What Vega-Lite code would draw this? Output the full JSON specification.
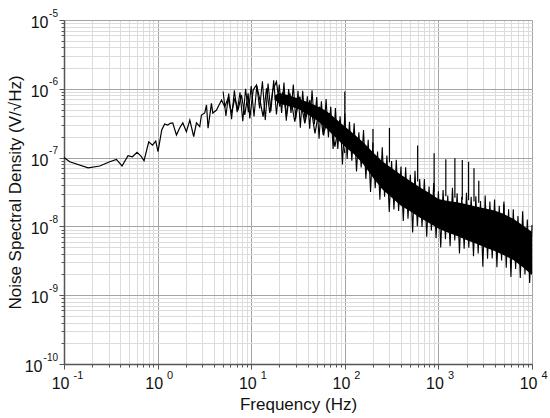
{
  "$schema": "https://vega.github.io/schema/vega-lite/v6.json",
  "width": 468,
  "height": 344,
  "autosize": {"type": "none"},
  "padding": {"left": 64, "top": 20, "right": 18, "bottom": 54},
  "background": "white",
  "config": {
    "view": {"stroke": null},
    "font": "Liberation Sans",
    "axis": {
      "labelFont": "Liberation Sans",
      "titleFont": "Liberation Sans",
      "labelColor": "#111",
      "titleColor": "#111",
      "titleFontWeight": "normal",
      "domainColor": "#555",
      "domainWidth": 1.5,
      "tickColor": "#555",
      "labelOverlap": false,
      "labelFlush": false
    }
  },
  "datasets": {
    "trace": [
      {"f": 0.1, "v": 1.0e-7}, {"f": 0.115, "v": 8.7e-8}, {"f": 0.181, "v": 7.1e-8},
      {"f": 0.241, "v": 7.55e-8}, {"f": 0.308, "v": 8.7e-8}, {"f": 0.363, "v": 9.4e-8},
      {"f": 0.417, "v": 7.55e-8}, {"f": 0.483, "v": 1.07e-7}, {"f": 0.538, "v": 1.03e-7},
      {"f": 0.603, "v": 1.19e-7}, {"f": 0.665, "v": 1.05e-7}, {"f": 0.716, "v": 9.0e-8},
      {"f": 0.804, "v": 1.7e-7}, {"f": 0.881, "v": 1.52e-7}, {"f": 0.955, "v": 1.74e-7},
      {"f": 1.01, "v": 1.22e-7}, {"f": 1.107, "v": 2.52e-7}, {"f": 1.19, "v": 3.08e-7},
      {"f": 1.28, "v": 2.98e-7}, {"f": 1.365, "v": 3.15e-7}, {"f": 1.45, "v": 3.19e-7},
      {"f": 1.59, "v": 2.13e-7}, {"f": 1.72, "v": 2.69e-7}, {"f": 1.86, "v": 3.19e-7},
      {"f": 2.03, "v": 2.38e-7}, {"f": 2.21, "v": 3.52e-7}, {"f": 2.43, "v": 2.01e-7},
      {"f": 2.6, "v": 3.19e-7}, {"f": 2.82, "v": 2.81e-7}, {"f": 2.94, "v": 4.16e-7},
      {"f": 3.19, "v": 4.45e-7}, {"f": 3.33, "v": 5.82e-7}, {"f": 3.46, "v": 2.67e-7},
      {"f": 3.76, "v": 6.15e-7}, {"f": 3.89, "v": 4.45e-7}, {"f": 4.26, "v": 4.92e-7},
      {"f": 4.82, "v": 6.87e-7}, {"f": 5.22, "v": 5.5e-7}, {"f": 5.66, "v": 7.28e-7},
      {"f": 6.15, "v": 4.45e-7}, {"f": 6.68, "v": 7.28e-7}, {"f": 7.24, "v": 4.92e-7},
      {"f": 7.87, "v": 8.13e-7}, {"f": 8.54, "v": 4.16e-7}, {"f": 9.27, "v": 8.61e-7},
      {"f": 9.66, "v": 3.72e-7}, {"f": 10.5, "v": 9.62e-7}, {"f": 11.4, "v": 1.14e-6},
      {"f": 12.4, "v": 6.87e-7}, {"f": 13.4, "v": 3.93e-7}, {"f": 14.6, "v": 1.02e-6},
      {"f": 15.8, "v": 4.45e-7}, {"f": 17.0, "v": 9.62e-7}, {"f": 18.6, "v": 1.27e-6},
      {"f": 20.2, "v": 5.5e-7}, {"f": 21.9, "v": 9.08e-7}, {"f": 23.8, "v": 3.93e-7},
      {"f": 25.9, "v": 8.61e-7}, {"f": 29.2, "v": 3.33e-7}, {"f": 33.1, "v": 7.67e-7},
      {"f": 37.4, "v": 3.15e-7}, {"f": 42.3, "v": 6.87e-7}, {"f": 48.0, "v": 2.25e-7},
      {"f": 54.0, "v": 5.5e-7}, {"f": 58.7, "v": 2.13e-7}, {"f": 69.0, "v": 4.45e-7},
      {"f": 78.4, "v": 1.44e-7}, {"f": 88.5, "v": 3.52e-7}, {"f": 100, "v": 1.16e-7}
    ],
    "core": [
      {"f": 17.8, "hi": 8.0e-7, "lo": 7.0e-7}, {"f": 19.95, "hi": 8.7e-7, "lo": 6.05e-7},
      {"f": 25.12, "hi": 8.03e-7, "lo": 5.64e-7}, {"f": 31.62, "hi": 7.24e-7, "lo": 5.15e-7},
      {"f": 39.81, "hi": 6.45e-7, "lo": 4.28e-7}, {"f": 50.12, "hi": 5.62e-7, "lo": 3.48e-7},
      {"f": 63.1, "hi": 4.79e-7, "lo": 2.7e-7}, {"f": 79.43, "hi": 3.71e-7, "lo": 1.96e-7},
      {"f": 100, "hi": 2.82e-7, "lo": 1.45e-7}, {"f": 125.9, "hi": 2.18e-7, "lo": 1.12e-7},
      {"f": 158.5, "hi": 1.66e-7, "lo": 7.96e-8}, {"f": 199.5, "hi": 1.2e-7, "lo": 5.15e-8},
      {"f": 251.2, "hi": 8.87e-8, "lo": 3.48e-8}, {"f": 316.2, "hi": 7.07e-8, "lo": 2.64e-8},
      {"f": 398.1, "hi": 5.62e-8, "lo": 2.0e-8}, {"f": 501.2, "hi": 4.57e-8, "lo": 1.66e-8},
      {"f": 631, "hi": 3.71e-8, "lo": 1.35e-8}, {"f": 794.3, "hi": 3.09e-8, "lo": 1.12e-8},
      {"f": 1000, "hi": 2.51e-8, "lo": 9.36e-9}, {"f": 1259, "hi": 2.34e-8, "lo": 8.15e-9},
      {"f": 1585, "hi": 2.24e-8, "lo": 7.27e-9}, {"f": 1995, "hi": 2.09e-8, "lo": 6.33e-9},
      {"f": 2512, "hi": 1.95e-8, "lo": 5.64e-9}, {"f": 3162, "hi": 1.82e-8, "lo": 4.92e-9},
      {"f": 3981, "hi": 1.7e-8, "lo": 4.38e-9}, {"f": 5012, "hi": 1.51e-8, "lo": 3.82e-9},
      {"f": 6310, "hi": 1.29e-8, "lo": 3.25e-9}, {"f": 7943, "hi": 1.04e-8, "lo": 2.57e-9},
      {"f": 10000, "hi": 8.31e-9, "lo": 1.96e-9}
    ],
    "noise": [
      {"f": 5.01, "v": 9.12e-7}, {"f": 5.37, "v": 4.03e-7}, {"f": 5.75, "v": 8.51e-7},
      {"f": 6.17, "v": 3.63e-7}, {"f": 6.61, "v": 9.5e-7}, {"f": 7.08, "v": 4.57e-7},
      {"f": 7.59, "v": 8.91e-7}, {"f": 8.13, "v": 3.39e-7}, {"f": 8.71, "v": 1.0e-6},
      {"f": 9.33, "v": 4.57e-7}, {"f": 10.0, "v": 1.1e-6}, {"f": 10.72, "v": 3.98e-7},
      {"f": 11.48, "v": 1.1e-6}, {"f": 12.3, "v": 5.19e-7}, {"f": 13.18, "v": 1.29e-6},
      {"f": 14.13, "v": 3.51e-7}, {"f": 15.14, "v": 1.19e-6}, {"f": 16.22, "v": 4.68e-7},
      {"f": 17.38, "v": 1.33e-6}, {"f": 18.62, "v": 4.23e-7},
      {"f": 19.95, "v": 1.15e-6}, {"f": 21.13, "v": 4.47e-7}, {"f": 22.39, "v": 1.23e-6},
      {"f": 23.71, "v": 3.43e-7}, {"f": 25.12, "v": 9.89e-7}, {"f": 26.61, "v": 4.47e-7},
      {"f": 28.18, "v": 1.15e-6}, {"f": 29.85, "v": 3.63e-7}, {"f": 31.62, "v": 9.33e-7},
      {"f": 33.5, "v": 2.72e-7}, {"f": 35.48, "v": 9.33e-7}, {"f": 37.58, "v": 3.51e-7},
      {"f": 39.81, "v": 7.76e-7}, {"f": 42.17, "v": 2.63e-7}, {"f": 44.67, "v": 9.55e-7},
      {"f": 47.32, "v": 3.05e-7}, {"f": 50.12, "v": 7.59e-7}, {"f": 53.09, "v": 1.88e-7},
      {"f": 56.23, "v": 6.61e-7}, {"f": 59.57, "v": 2.09e-7}, {"f": 63.1, "v": 7.08e-7},
      {"f": 66.83, "v": 1.97e-7}, {"f": 70.79, "v": 5.5e-7}, {"f": 74.99, "v": 1.33e-7},
      {"f": 79.43, "v": 5.25e-7}, {"f": 84.14, "v": 1.33e-7}, {"f": 89.13, "v": 3.98e-7},
      {"f": 94.41, "v": 7.94e-8}, {"f": 100, "v": 4.37e-7}, {"f": 105.9, "v": 9.55e-8},
      {"f": 112.2, "v": 3.31e-7}, {"f": 118.9, "v": 9.02e-8}, {"f": 125.9, "v": 3.16e-7},
      {"f": 133.4, "v": 6.31e-8}, {"f": 141.3, "v": 2.34e-7}, {"f": 149.6, "v": 7.16e-8},
      {"f": 158.5, "v": 2.51e-7}, {"f": 167.9, "v": 4.95e-8}, {"f": 177.8, "v": 1.82e-7},
      {"f": 188.4, "v": 3.16e-8}, {"f": 199.5, "v": 1.66e-7}, {"f": 211.3, "v": 3.59e-8},
      {"f": 223.9, "v": 1.23e-7}, {"f": 237.1, "v": 2.45e-8}, {"f": 251.2, "v": 1.41e-7},
      {"f": 266.1, "v": 2.69e-8}, {"f": 281.8, "v": 1.07e-7}, {"f": 298.5, "v": 1.62e-8},
      {"f": 316.2, "v": 8.91e-8}, {"f": 335.0, "v": 1.76e-8}, {"f": 354.8, "v": 9.33e-8},
      {"f": 375.8, "v": 1.68e-8}, {"f": 398.1, "v": 7.41e-8}, {"f": 421.7, "v": 1.2e-8},
      {"f": 446.7, "v": 7.24e-8}, {"f": 473.2, "v": 1.29e-8}, {"f": 501.2, "v": 5.62e-8},
      {"f": 530.9, "v": 8.13e-9}, {"f": 562.3, "v": 6.46e-8}, {"f": 595.7, "v": 1.01e-8},
      {"f": 631.0, "v": 4.9e-8}, {"f": 668.3, "v": 9.77e-9}, {"f": 707.9, "v": 4.9e-8},
      {"f": 749.9, "v": 7.08e-9}, {"f": 794.3, "v": 3.8e-8}, {"f": 841.4, "v": 8.71e-9},
      {"f": 891.3, "v": 4.27e-8}, {"f": 944.1, "v": 6.76e-9}, {"f": 1000, "v": 3.24e-8},
      {"f": 1059, "v": 4.95e-9}, {"f": 1122, "v": 3.39e-8}, {"f": 1189, "v": 6.53e-9},
      {"f": 1259, "v": 2.82e-8}, {"f": 1334, "v": 5.13e-9}, {"f": 1413, "v": 3.63e-8},
      {"f": 1496, "v": 6.24e-9}, {"f": 1585, "v": 3.02e-8}, {"f": 1679, "v": 4.03e-9},
      {"f": 1778, "v": 2.69e-8}, {"f": 1884, "v": 4.73e-9}, {"f": 1995, "v": 3.09e-8},
      {"f": 2113, "v": 4.9e-9}, {"f": 2239, "v": 2.69e-8}, {"f": 2371, "v": 3.67e-9},
      {"f": 2512, "v": 2.75e-8}, {"f": 2661, "v": 4.03e-9}, {"f": 2818, "v": 2.34e-8},
      {"f": 2985, "v": 2.6e-9}, {"f": 3162, "v": 2.82e-8}, {"f": 3350, "v": 3.39e-9},
      {"f": 3548, "v": 2.29e-8}, {"f": 3758, "v": 3.43e-9}, {"f": 3981, "v": 2.45e-8},
      {"f": 4217, "v": 2.54e-9}, {"f": 4467, "v": 2.0e-8}, {"f": 4732, "v": 3.2e-9},
      {"f": 5012, "v": 2.29e-8}, {"f": 5309, "v": 2.51e-9}, {"f": 5623, "v": 1.78e-8},
      {"f": 5957, "v": 1.84e-9}, {"f": 6310, "v": 1.78e-8}, {"f": 6683, "v": 2.4e-9},
      {"f": 7079, "v": 1.41e-8}, {"f": 7499, "v": 1.78e-9}, {"f": 7943, "v": 1.66e-8},
      {"f": 8414, "v": 2.0e-9}, {"f": 8913, "v": 1.26e-8}, {"f": 9441, "v": 1.51e-9},
      {"f": 10000, "v": 1.05e-8}
    ],
    "spikes": [
      {"f": 100, "top": 9.1e-7, "base": 3.2e-7},
      {"f": 200, "top": 2.6e-7, "base": 1.4e-7},
      {"f": 300, "top": 2.7e-7, "base": 8.5e-8},
      {"f": 600, "top": 1.5e-7, "base": 4.5e-8},
      {"f": 900, "top": 1.16e-7, "base": 3.2e-8},
      {"f": 1200, "top": 9.5e-8, "base": 2.75e-8},
      {"f": 1500, "top": 9.8e-8, "base": 2.6e-8},
      {"f": 1800, "top": 9.2e-8, "base": 2.45e-8},
      {"f": 2100, "top": 8.7e-8, "base": 2.4e-8},
      {"f": 2400, "top": 7.0e-8, "base": 2.3e-8},
      {"f": 2700, "top": 4.6e-8, "base": 2.2e-8},
      {"f": 5000, "top": 2.1e-8, "base": 1.7e-8}
    ],
    "xexp": [
      {"f": 0.1, "e": "-1"}, {"f": 1, "e": "0"}, {"f": 10, "e": "1"},
      {"f": 100, "e": "2"}, {"f": 1000, "e": "3"}, {"f": 10000, "e": "4"}
    ],
    "yexp": [
      {"v": 1e-5, "e": "-5"}, {"v": 1e-6, "e": "-6"}, {"v": 1e-7, "e": "-7"},
      {"v": 1e-8, "e": "-8"}, {"v": 1e-9, "e": "-9"}, {"v": 1e-10, "e": "-10"}
    ]
  },
  "layer": [
    {
      "data": {"name": "core"},
      "mark": {"type": "area", "color": "black"},
      "encoding": {
        "x": {
          "field": "f",
          "type": "quantitative",
          "scale": {"type": "log", "domain": [0.1, 10000], "nice": false},
          "axis": {
            "title": "Frequency (Hz)",
            "titleFontSize": 17,
            "titleBaseline": "alphabetic",
            "titleY": 45,
            "values": [0.1, 0.2, 0.3, 0.4, 0.5, 0.6, 0.7, 0.8, 0.9, 1, 2, 3, 4, 5, 6, 7, 8, 9, 10, 20, 30, 40, 50, 60, 70, 80, 90, 100, 200, 300, 400, 500, 600, 700, 800, 900, 1000, 2000, 3000, 4000, 5000, 6000, 7000, 8000, 9000, 10000],
            "labelExpr": "abs(log(datum.value) / LN10 - round(log(datum.value) / LN10)) < 0.001 ? '10' : ''",
            "labelFontSize": 16,
            "labelAlign": "right",
            "labelBaseline": "alphabetic",
            "labelOffset": 5,
            "labelPadding": 19.5,
            "grid": true,
            "gridColor": {"condition": {"test": "abs(log(datum.value) / LN10 - round(log(datum.value) / LN10)) < 0.001", "value": "#a3a3a3"}, "value": "#dcdcdc"},
            "tickSize": {"condition": {"test": "abs(log(datum.value) / LN10 - round(log(datum.value) / LN10)) < 0.001", "value": 5}, "value": 3}
          }
        },
        "y": {
          "field": "hi",
          "type": "quantitative",
          "scale": {"type": "log", "domain": [1e-10, 1e-5], "nice": false},
          "axis": {
            "title": "Noise Spectral Density (V/√Hz)",
            "titleFontSize": 17,
            "titleBaseline": "alphabetic",
            "titleX": -44,
            "values": [1e-10, 2e-10, 3e-10, 4e-10, 5e-10, 6e-10, 7e-10, 8e-10, 9e-10, 1e-9, 2e-9, 3e-9, 4e-9, 5e-9, 6e-9, 7e-9, 8e-9, 9e-9, 1e-8, 2e-8, 3e-8, 4e-8, 5e-8, 6e-8, 7e-8, 8e-8, 9e-8, 1e-7, 2e-7, 3e-7, 4e-7, 5e-7, 6e-7, 7e-7, 8e-7, 9e-7, 1e-6, 2e-6, 3e-6, 4e-6, 5e-6, 6e-6, 7e-6, 8e-6, 9e-6, 1e-5],
            "labelExpr": "abs(log(datum.value) / LN10 - round(log(datum.value) / LN10)) < 0.001 ? '10' : ''",
            "labelFontSize": 16,
            "labelAlign": "right",
            "labelBaseline": "alphabetic",
            "labelOffset": 7.5,
            "labelPadding": {"condition": {"test": "datum.value < 2e-10", "value": 17}, "value": 11},
            "grid": true,
            "gridColor": {"condition": {"test": "abs(log(datum.value) / LN10 - round(log(datum.value) / LN10)) < 0.001", "value": "#a3a3a3"}, "value": "#dcdcdc"},
            "tickSize": {"condition": {"test": "abs(log(datum.value) / LN10 - round(log(datum.value) / LN10)) < 0.001", "value": 5}, "value": 3}
          }
        },
        "y2": {"field": "lo"}
      }
    },
    {
      "data": {"name": "noise"},
      "mark": {"type": "line", "color": "black", "strokeWidth": 1.1},
      "encoding": {
        "x": {"field": "f", "type": "quantitative"},
        "y": {"field": "v", "type": "quantitative"}
      }
    },
    {
      "data": {"name": "trace"},
      "mark": {"type": "line", "color": "black", "strokeWidth": 1.2},
      "encoding": {
        "x": {"field": "f", "type": "quantitative"},
        "y": {"field": "v", "type": "quantitative"}
      }
    },
    {
      "data": {"name": "spikes"},
      "mark": {"type": "rule", "color": "black", "strokeWidth": 1.2},
      "encoding": {
        "x": {"field": "f", "type": "quantitative"},
        "y": {"field": "top", "type": "quantitative"},
        "y2": {"field": "base"}
      }
    },
    {
      "data": {"name": "xexp"},
      "mark": {"type": "text", "align": "left", "baseline": "alphabetic", "dx": 9.5, "dy": 15, "fontSize": 11, "color": "#111", "font": "Liberation Sans"},
      "encoding": {
        "x": {"field": "f", "type": "quantitative"},
        "y": {"datum": 1e-10, "type": "quantitative"},
        "text": {"field": "e"}
      }
    },
    {
      "data": {"name": "yexp"},
      "mark": {"type": "text", "align": "right", "baseline": "alphabetic", "dx": -6, "dy": -3.5, "fontSize": 10, "color": "#111", "font": "Liberation Sans"},
      "encoding": {
        "x": {"datum": 0.1, "type": "quantitative"},
        "y": {"field": "v", "type": "quantitative"},
        "text": {"field": "e"}
      }
    }
  ]
}
